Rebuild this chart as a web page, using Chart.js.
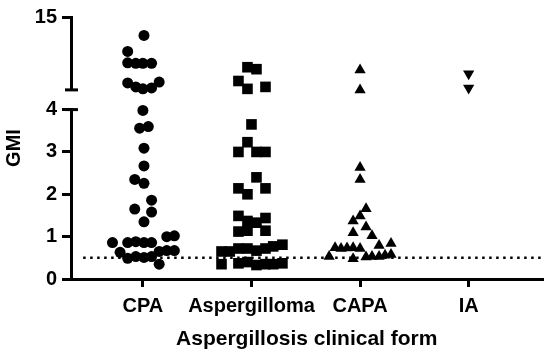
<!DOCTYPE html>
<html>
<head>
<meta charset="utf-8">
<script src="https://cdn.jsdelivr.net/npm/chart.js@4.4.0/dist/chart.umd.min.js"></script>
<style>
  html, body { margin: 0; padding: 0; background: #fff; }
</style>
</head>
<body>
<canvas id="gmiChart" width="550" height="355"></canvas>
<script>
// Categories, axis texts and ticks
const categories = ['CPA', 'Aspergilloma', 'CAPA', 'IA'];
const xTitle = 'Aspergillosis clinical form';
const yTitle = 'GMI';
const lowerTicks = [0, 1, 2, 3, 4];
const upperTicks = [15];
const lowerRange = [0, 4];
const upperRange = [5, 15];
const cutoff = 0.5;

// GMI values per group, with the horizontal scatter of each point (in category widths)
const cpaGmi = [12.47, 10.27, 8.72, 8.65, 8.65, 8.65, 5.95, 5.41, 5.14, 5.27, 6.08,
    3.98, 3.56, 3.6, 3.09, 2.67, 2.35, 2.26, 1.86, 1.65, 1.58, 1.35,
    0.86, 0.86, 0.88, 0.86, 0.86, 1.0, 1.02,
    0.63, 0.65, 0.67, 0.67,
    0.49, 0.53, 0.51, 0.53, 0.35];
const cpaJitter = [0.01, -0.14, -0.14, -0.065, 0, 0.08, -0.14, -0.065, 0, 0.08, 0.15,
    0, -0.03, 0.05, 0.01, 0.01, -0.075, 0.01, 0.08, -0.075, 0.08, 0.01,
    -0.28, -0.14, -0.065, 0.01, 0.08, 0.22, 0.29,
    -0.21, 0.15, 0.22, 0.29,
    -0.14, -0.065, 0.01, 0.08, 0.15];

const aspGmi = [8.11, 7.84, 6.22, 5.14, 5.41,
    3.65, 3.23, 3.0, 3.0, 3.0, 2.4, 2.14, 2.14, 2.0,
    1.49, 1.44, 1.37, 1.33, 1.12, 1.14, 1.14,
    0.65, 0.65, 0.72, 0.72, 0.67, 0.72, 0.77, 0.81,
    0.35, 0.37, 0.40, 0.33, 0.35, 0.35, 0.37];
const aspJitter = [-0.037, 0.046, -0.12, -0.037, 0.129,
    0, -0.037, -0.12, 0.046, 0.129, 0.046, -0.12, 0.129, -0.037,
    -0.12, 0.129, -0.037, 0.046, -0.12, -0.037, 0.129,
    -0.276, -0.2, -0.12, -0.037, 0.046, 0.129, 0.2, 0.285,
    -0.276, -0.12, -0.037, 0.046, 0.129, 0.2, 0.285];

const capaGmi = [7.74, 5.0,
    2.63, 2.35, 1.66, 1.49, 1.37, 1.23, 1.09, 1.02, 0.79, 0.84,
    0.74, 0.72, 0.73, 0.74, 0.72,
    0.53, 0.48, 0.52, 0.53, 0.53, 0.56, 0.58];
const capaJitter = [0, 0,
    0, 0, 0.055, 0, -0.064, 0.055, -0.064, 0.11, 0.175, 0.285,
    -0.23, -0.175, -0.12, -0.064, 0,
    -0.285, -0.064, 0.055, 0.11, 0.175, 0.23, 0.285];

const iaGmi = [7.2, 5.27];
const iaJitter = [0, 0];

const axisFont = { family: '"Liberation Sans", Arial, sans-serif', size: 20, weight: 'bold' };

// split one group into the upper and lower part of the broken axis
function groupDatasets(index, values, jitter, style) {
    const upper = [];
    const lower = [];
    values.forEach((v, i) => {
        const pt = { x: index + jitter[i], y: v };
        if (v > lowerRange[1]) upper.push(pt); else lower.push(pt);
    });
    return [
        Object.assign({ data: upper, yAxisID: 'yTop' }, style),
        Object.assign({ data: lower, yAxisID: 'yLow' }, style)
    ];
}

function markerStyle(pointStyle, radius, rotation) {
    return {
        type: 'scatter',
        pointStyle: pointStyle,
        pointRadius: radius,
        pointHoverRadius: radius,
        rotation: rotation || 0,
        backgroundColor: '#000',
        borderColor: '#000',
        borderWidth: 0,
        clip: false
    };
}

function yScale(range, ticks, weight) {
    return {
        type: 'linear',
        position: 'left',
        stack: 'gmi',
        stackWeight: weight,
        min: range[0],
        max: range[1],
        afterBuildTicks: s => { s.ticks = ticks.map(v => ({ value: v })); },
        afterFit: s => { s.width = 71; },
        border: { display: true, color: '#000', width: 3 },
        grid: { drawOnChartArea: false, color: '#000', lineWidth: 3, tickLength: 9 },
        ticks: { color: '#000', font: axisFont, padding: 5 }
    };
}

// break caps on the y axis and the y title centred on the whole axis
const brokenAxis = {
    id: 'brokenAxis',
    afterDraw(chart) {
        const { ctx, scales } = chart;
        const axisX = scales.yLow.right;
        ctx.save();
        ctx.strokeStyle = '#000';
        ctx.lineWidth = 3;
        [scales.yTop.bottom, scales.yLow.top].forEach(y => {
            ctx.beginPath();
            ctx.moveTo(axisX - 6, y);
            ctx.lineTo(axisX + 7, y);
            ctx.stroke();
        });
        ctx.translate(14, (scales.yTop.top + scales.yLow.bottom) / 2);
        ctx.rotate(-Math.PI / 2);
        ctx.font = 'bold 20px "Liberation Sans", Arial, sans-serif';
        ctx.textAlign = 'center';
        ctx.textBaseline = 'middle';
        ctx.fillStyle = '#000';
        ctx.fillText(yTitle, 0, 0);
        ctx.restore();
    }
};

const datasets = [].concat(
    groupDatasets(0, cpaGmi, cpaJitter, markerStyle('circle', 5.5)),
    groupDatasets(1, aspGmi, aspJitter, markerStyle('rect', 7.5)),
    groupDatasets(2, capaGmi, capaJitter, markerStyle('triangle', 6.5)),
    groupDatasets(3, iaGmi, iaJitter, markerStyle('triangle', 6.5, 180)),
    [{
        type: 'line',
        data: [{ x: -0.55, y: cutoff }, { x: 3.68, y: cutoff }],
        yAxisID: 'yLow',
        borderColor: '#000',
        borderWidth: 2.5,
        borderDash: [2.5, 4.5],
        pointRadius: 0,
        fill: false
    }]
);

new Chart(document.getElementById('gmiChart'), {
    type: 'scatter',
    data: { datasets: datasets },
    plugins: [brokenAxis],
    options: {
        responsive: false,
        devicePixelRatio: 1,
        animation: false,
        layout: { padding: { top: 13, right: 7, bottom: 0, left: 0 } },
        plugins: { legend: { display: false }, tooltip: { enabled: false } },
        scales: {
            x: {
                type: 'linear',
                position: 'bottom',
                min: -0.662,
                max: 3.68,
                afterBuildTicks: s => { s.ticks = categories.map((c, i) => ({ value: i })); },
                afterFit: s => { s.height = 76; },
                border: { display: true, color: '#000', width: 3 },
                grid: { drawOnChartArea: false, color: '#000', lineWidth: 3, tickLength: 8 },
                ticks: {
                    color: '#000', font: axisFont, padding: 7, maxRotation: 0, autoSkip: false,
                    callback: v => categories[v]
                },
                title: {
                    display: true, text: xTitle, color: '#000',
                    font: { family: axisFont.family, size: 21, weight: 'bold' },
                    padding: { top: 0, bottom: 3 }
                }
            },
            yLow: yScale(lowerRange, lowerTicks, 172),
            yGap: {
                type: 'linear',
                position: 'left',
                stack: 'gmi',
                stackWeight: 20,
                afterFit: s => { s.width = 71; },
                border: { display: false },
                grid: { display: false },
                ticks: { display: false }
            },
            yTop: yScale(upperRange, upperTicks, 74)
        }
    }
});
</script>
</body>
</html>
